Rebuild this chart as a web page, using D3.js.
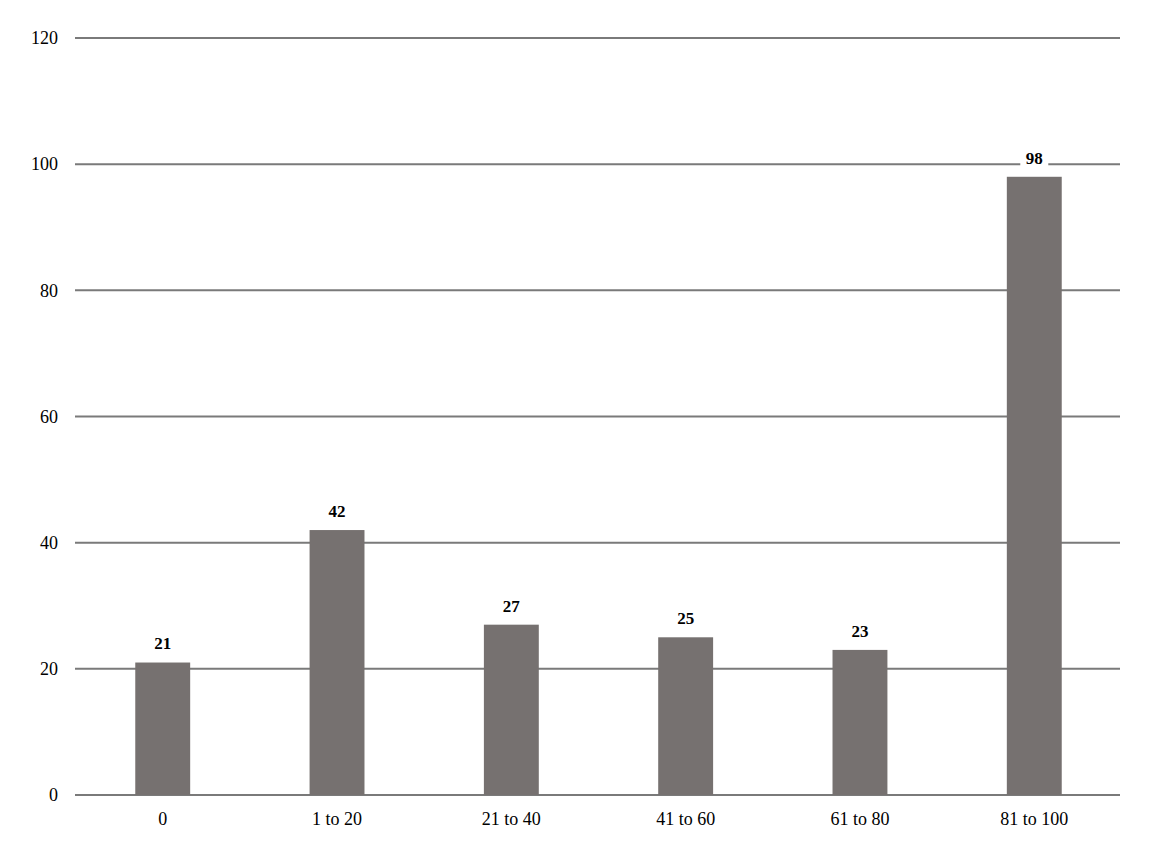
<!DOCTYPE html>
<html lang="en">
<head>
    <meta charset="UTF-8">
    <script src="https://d3js.org/d3.v7.min.js"></script>
    <style>
        body { margin: 0; background: #fff; }
        text { font-family: "Liberation Serif", "DejaVu Serif", serif; fill: #000; }
    </style>
</head>
<body>
    <script>
        // chart data
        var categories = ["0", "1 to 20", "21 to 40", "41 to 60", "61 to 80", "81 to 100"]
        var values = [21, 42, 27, 25, 23, 98]
        var yTicks = [0, 20, 40, 60, 80, 100, 120]

        var width = 1155,
            height = 865

        var svg = d3.select("body").append("svg")
            .attr("width", width)
            .attr("height", height)

        var x = d3.scaleBand()
            .domain(categories)
            .range([76, 1121])
            .paddingInner(0.685)
            .paddingOuter(0.34)

        var y = d3.scaleLinear()
            .domain([0, 120])
            .range([795, 38])

        // gridlines
        svg.append("g")
            .selectAll("line")
            .data(yTicks)
            .join("line")
            .attr("x1", 75)
            .attr("x2", 1120)
            .attr("y1", function (d) { return y(d) })
            .attr("y2", function (d) { return y(d) })
            .attr("stroke", "#7a7a7a")
            .attr("stroke-width", 2)

        // y tick labels
        svg.append("g")
            .selectAll("text")
            .data(yTicks)
            .join("text")
            .attr("x", 58)
            .attr("y", function (d) { return y(d) })
            .attr("dy", "0.35em")
            .attr("text-anchor", "end")
            .style("font-size", "18px")
            .text(function (d) { return d })

        // bars
        svg.append("g")
            .selectAll("rect")
            .data(values)
            .join("rect")
            .attr("x", function (d, i) { return x(categories[i]) })
            .attr("y", function (d) { return y(d) })
            .attr("width", x.bandwidth())
            .attr("height", function (d) { return y(0) - y(d) })
            .attr("fill", "#767170")

        // x labels
        svg.append("g")
            .selectAll("text")
            .data(categories)
            .join("text")
            .attr("x", function (d) { return x(d) + x.bandwidth() / 2 })
            .attr("y", 819)
            .attr("dy", "0.35em")
            .attr("text-anchor", "middle")
            .style("font-size", "18px")
            .text(function (d) { return d })

        // value labels, with white box behind
        var lab = svg.append("g")
            .selectAll("g")
            .data(values)
            .join("g")
            .attr("transform", function (d, i) {
                return "translate(" + (x(categories[i]) + x.bandwidth() / 2) + "," + (y(d) - 19) + ")"
            })

        lab.append("rect")
            .attr("x", -14)
            .attr("y", -11)
            .attr("width", 28)
            .attr("height", 22)
            .attr("fill", "#fff")

        lab.append("text")
            .attr("dy", "0.35em")
            .attr("text-anchor", "middle")
            .style("font-size", "17px")
            .style("font-weight", "bold")
            .text(function (d) { return d })
    </script>
</body>
</html>
